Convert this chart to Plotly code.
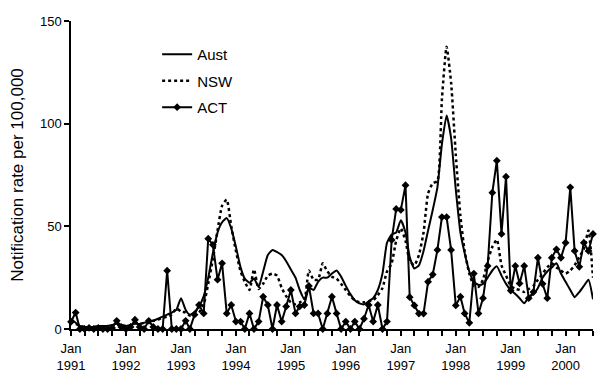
import pandas as pd
import plotly.graph_objects as go

months = pd.date_range("1991-01-01", periods=115, freq="MS")

aust = [5, 3, 1.5, 1, 1, 1, 1.5, 1.5, 1.5, 2, 2.5, 2,
        1.5, 2, 2.5, 2.5, 3, 3.5, 4, 5, 6, 7, 8, 9.3,
        15, 9.3, 7, 8.4, 11, 16, 25, 37, 47, 52, 54, 49,
        40, 30, 24.5, 22.5, 24.5, 20.5, 28, 36, 38.5, 37.5, 36, 33,
        29, 25, 19, 14.5, 20, 19, 23, 25, 25, 27, 28.5, 25.5,
        21, 17, 14, 12.5, 12, 13.5, 15, 19, 27, 42, 46, 47,
        53, 47, 35, 29.5, 31, 38, 48, 58, 69, 90, 104, 93,
        68, 47, 37, 28, 23, 21.5, 22, 25, 28.5, 30.5, 26, 22,
        19, 17, 15, 12.5, 15.5, 17, 20, 25, 28, 30, 32, 27,
        23, 19, 15.5, 18, 21, 24, 14.5]

nsw = [4, 2.5, 1.5, 1, 1, 1, 1, 1, 1.5, 1.5, 2, 2,
       1.5, 2, 3, 2.5, 3, 3.5, 4, 4.5, 5.5, 6, 7, 10,
       8.5, 8, 6.5, 7, 8, 12, 22, 34, 48, 60, 63, 50,
       38, 28, 23, 19, 29, 19.5, 22, 26, 27, 26, 20, 16,
       13, 12, 13, 14, 28.5, 24, 24, 32, 28, 25.5, 24.5, 22,
       19, 16, 14, 13, 13, 13.5, 14, 16.5, 20, 28, 32, 43,
       49, 43, 33, 31, 36, 47, 66, 71, 72, 112, 137.5, 120,
       85, 55, 38, 27, 21, 20.5, 24, 33, 40, 43.5, 31, 26,
       21, 19.5, 19, 18, 19.5, 21, 24, 27, 30, 32, 30, 28.5,
       27, 28.5, 31, 35, 39, 48, 25]

act = [3.5, 8, 0, 0, 0.5, 0, 0.5, 0, 0, 0.5, 4, 1,
       0, 1, 4.5, 1, 0, 4, 1, 0, 0, 28.4, 0, 0,
       0, 4, 0, 7, 11.7, 7.6, 44, 41, 24, 32, 7.6, 11.7,
       3.6, 3.6, 0, 7.6, 0, 3.6, 15.7, 11.7, 0, 11.7, 3.6, 11,
       19, 7.6, 11, 11.7, 21, 7.6, 7.6, 0, 7.6, 15.7, 7.6, 0,
       3.6, 0, 3.6, 0, 5, 11.7, 3.6, 11.7, 0, 3.6, 43.4, 58.5,
       58, 70, 15.5, 11.5, 7.5, 7.5, 23, 26.5, 38.5, 54.5, 54.5, 38.5,
       11.5, 15.7, 7.6, 3, 27, 7.6, 15, 30.7, 66.4, 82, 46.3, 74.2,
       18.7, 30.7, 22.2, 30.7, 15, 18, 34.7, 22, 15, 34.7, 38.8, 34.7,
       42, 69, 38, 30.3, 42, 38, 46.3]

series_names = ["Aust", "NSW", "ACT"]
y_title = "Notification rate per 100,000"

FONT = "Arial, Liberation Sans, sans-serif"

fig = go.Figure()
fig.add_trace(go.Scatter(
    x=months, y=aust, name=series_names[0], mode="lines",
    line=dict(color="black", width=2, shape="spline", smoothing=0.5),
    legendgroup="a"))
fig.add_trace(go.Scatter(
    x=months, y=nsw, name=series_names[1], mode="lines",
    line=dict(color="black", width=2.5, dash="3px,3px", shape="spline", smoothing=0.5),
    legendgroup="b"))
fig.add_trace(go.Scatter(
    x=months, y=act, name=series_names[2], mode="lines+markers",
    line=dict(color="black", width=2),
    marker=dict(symbol="diamond", size=6, color="black"),
    cliponaxis=False, legendgroup="c"))

fig.update_layout(
    width=597, height=377,
    margin=dict(l=71, r=4, t=21, b=48),
    paper_bgcolor="white", plot_bgcolor="white",
    font=dict(family=FONT, color="black", size=13),
    showlegend=True,
    legend=dict(x=0.165, y=0.945, xanchor="left", yanchor="top",
                font=dict(size=15), bgcolor="rgba(0,0,0,0)",
                tracegroupgap=4, itemwidth=30),
)
fig.update_xaxes(
    type="date",
    range=[months[0], months[-1]],
    showgrid=False, zeroline=False,
    showline=True, linecolor="black", linewidth=1.5,
    ticks="outside", ticklen=5, tickwidth=1.5, tickcolor="black",
    dtick="M12", tick0="1991-01-01", tickformat="%b<br>%Y",
    tickfont=dict(size=13), ticklabelstandoff=2,
    minor=dict(dtick="M3", ticks="outside", ticklen=5, tickwidth=1.5, tickcolor="black"),
)
fig.update_yaxes(
    range=[0, 150], showgrid=False, zeroline=False,
    showline=True, linecolor="black", linewidth=1.5,
    ticks="outside", ticklen=5, tickwidth=1.5, tickcolor="black",
    tickvals=[0, 50, 100, 150], tickfont=dict(size=13),
    title=dict(text=y_title, font=dict(size=17), standoff=12),
)

fig.write_html("out.html")
